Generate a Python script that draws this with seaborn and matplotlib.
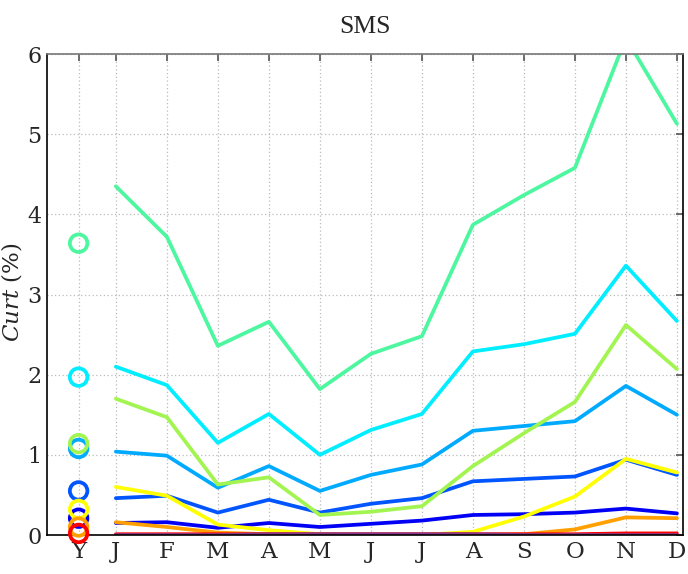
import numpy as np
import pandas as pd
import matplotlib
matplotlib.use("Agg")
import matplotlib.pyplot as plt
import seaborn as sns

# Monthly values (%) for each series, plus the yearly value plotted at "Y"
months = ["J", "F", "M", "A", "M", "J", "J", "A", "S", "O", "N", "D"]
tick_labels = ["Y"] + months

s_mint = [4.35, 3.72, 2.36, 2.66, 1.82, 2.26, 2.48, 3.87, 4.24, 4.58, 6.2, 5.13]
s_cyan = [2.10, 1.87, 1.15, 1.51, 1.00, 1.31, 1.51, 2.29, 2.38, 2.51, 3.36, 2.67]
s_lime = [1.70, 1.47, 0.63, 0.72, 0.25, 0.29, 0.36, 0.86, 1.27, 1.66, 2.62, 2.07]
s_sky = [1.04, 0.99, 0.59, 0.86, 0.55, 0.75, 0.88, 1.30, 1.36, 1.42, 1.86, 1.50]
s_blue = [0.46, 0.49, 0.28, 0.44, 0.28, 0.39, 0.46, 0.67, 0.70, 0.73, 0.94, 0.75]
s_yellow = [0.60, 0.49, 0.13, 0.06, 0.01, 0.00, 0.00, 0.04, 0.23, 0.48, 0.95, 0.78]
s_navy = [0.15, 0.16, 0.09, 0.15, 0.10, 0.14, 0.18, 0.25, 0.26, 0.28, 0.33, 0.27]
s_orange = [0.16, 0.10, 0.03, 0.01, 0.00, 0.00, 0.00, 0.00, 0.01, 0.07, 0.22, 0.21]
s_red = [0.01, 0.01, 0.01, 0.01, 0.01, 0.01, 0.01, 0.01, 0.01, 0.01, 0.02, 0.02]
s_purple = [0.00, 0.00, 0.00, 0.01, 0.01, 0.01, 0.01, 0.01, 0.00, 0.00, 0.00, 0.00]

yearly = {
    "navy": 0.21, "blue": 0.55, "sky": 1.08, "cyan": 1.97, "mint": 3.64,
    "lime": 1.14, "yellow": 0.32, "orange": 0.10, "red": 0.02,
}

series = {
    "navy": s_navy, "blue": s_blue, "sky": s_sky, "cyan": s_cyan,
    "mint": s_mint, "lime": s_lime, "yellow": s_yellow, "orange": s_orange,
    "red": s_red, "purple": s_purple,
}
palette = {
    "navy": "#0000f5", "blue": "#0055ff", "sky": "#00aaff", "cyan": "#00eeff",
    "mint": "#4cf7a0", "lime": "#a2f550", "yellow": "#ffff00",
    "orange": "#ffa000", "red": "#ff0000", "purple": "#8a3a8a",
}
order = list(series.keys())

# x positions: months at 0..11, yearly marker slightly left of January
month_x = np.arange(12)
year_x = -0.73

df = pd.DataFrame(
    [(name, x, v) for name, vals in series.items() for x, v in zip(month_x, vals)],
    columns=["series", "x", "value"],
)

sns.set_style("white")
plt.rcParams["font.family"] = ["DejaVu Serif"]
plt.rcParams["mathtext.fontset"] = "dejavuserif"

fig = plt.figure(figsize=(6.88, 5.74), dpi=100)
ax = fig.add_axes([0.0683, 0.0679, 0.9245, 0.838])

sns.lineplot(
    data=df, x="x", y="value", hue="series", hue_order=order,
    palette=palette, linewidth=2.7, legend=False, ax=ax, estimator=None,
    sort=False,
)

for name in ["navy", "blue", "sky", "cyan", "mint", "lime", "yellow", "orange", "red"]:
    ax.scatter([year_x], [yearly[name]], s=160, facecolors="none",
               edgecolors=palette[name], linewidths=2.7, zorder=5, clip_on=False)

ax.set_xlim(-1.35, 11.12)
ax.set_ylim(0, 6)
ax.set_xticks([year_x] + list(month_x))
ax.set_xticklabels(tick_labels)
ax.set_yticks(range(7))
ax.tick_params(axis="both", direction="in", length=5, width=1.2,
               top=True, right=True, labelsize=16.5, pad=4, color="#555555")
ax.tick_params(axis="y", labelsize=16, pad=4)

ax.grid(True, linestyle=(0, (1, 2)), color="#bbbbbb", linewidth=0.9)
ax.set_axisbelow(True)
for side in ["left", "bottom", "right"]:
    ax.spines[side].set_color("black")
    ax.spines[side].set_linewidth(1.2)
ax.spines["top"].set_color("#777777")
ax.spines["top"].set_linewidth(1.2)

ax.set_xlabel("")
ax.set_ylabel("")
fig.text(12 / 688, 0.49, r"$\mathit{Curt}$ (%)",
         rotation=90, ha="center", va="center", fontsize=16.5)
ax.set_title("SMS", fontsize=18.5, family="Liberation Serif", pad=15)

fig.savefig("out.png", dpi=100)
